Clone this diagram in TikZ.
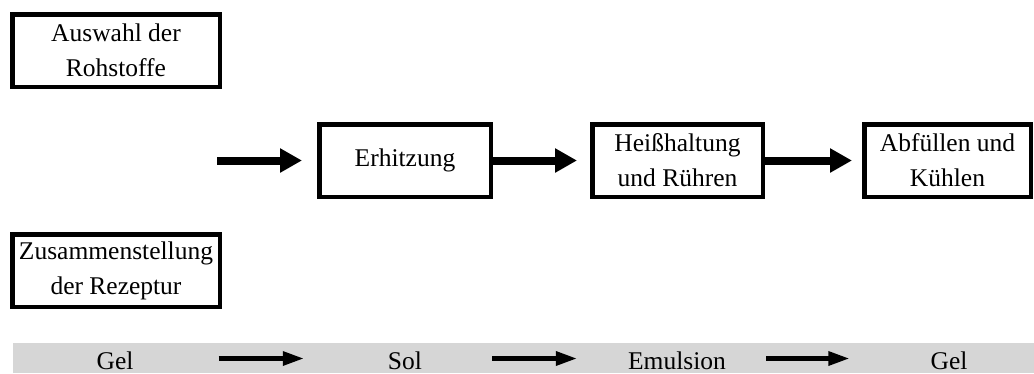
\documentclass[tikz,border=0pt]{standalone}
\usepackage{fontspec}
\setmainfont{Liberation Serif}
\usetikzlibrary{arrows.meta}
\definecolor{barfill}{RGB}{214,214,214}

\begin{document}
\begin{tikzpicture}[x=1pt, y=-1pt,
    box/.style={draw, line width=4.5pt, align=center, inner sep=0pt,
        minimum height=72.5pt, font=\fontsize{25.5}{35}\selectfont},
    bigarrow/.style={line width=8pt, -{Triangle[length=22pt, width=23pt]}},
    bararrow/.style={line width=5.5pt, -{Triangle[length=22pt, width=13pt]}},
    bartext/.style={inner sep=0pt, text height=21pt, text depth=0pt,
        font=\fontsize{25.5}{30}\selectfont}]
    \useasboundingbox (0,0) rectangle (1034,373);
    \fill[barfill] (13,343) rectangle (1034,373);

    \node[box, minimum width=207.5pt] (auswahl) at (116,50.5) {Auswahl der\\Rohstoffe};
    \node[box, minimum width=207.5pt] (rezeptur) at (116,270.5) {Zusammenstellung\\der Rezeptur};

    \node[box, minimum width=171.5pt] (erhitzung) at (405,160.5) {Erhitzung};
    \node[box, minimum width=170.5pt] (heiss) at (677.5,160.5) {Heißhaltung\\und Rühren};
    \node[box, minimum width=166.5pt] (abfuellen) at (947.5,160.5) {Abfüllen und\\Kühlen};

    \coordinate (start) at (217,160.5);
    \draw[bigarrow, shorten >=15pt] (start) -- (erhitzung.west);
    \draw[bigarrow, shorten >=13pt] (erhitzung) -- (heiss);
    \draw[bigarrow, shorten >=10pt] (heiss) -- (abfuellen);

    \node[bartext] (gelA) at (115,358.5) {Gel};
    \node[bartext] (sol) at (405,358.5) {Sol};
    \node[bartext] (emulsion) at (677,358.5) {Emulsion};
    \node[bartext] (gelB) at (949,358.5) {Gel};

    \draw[bararrow, shorten <=85pt, shorten >=83pt] (gelA) -- (sol);
    \draw[bararrow, shorten <=70pt, shorten >=50pt] (sol) -- (emulsion);
    \draw[bararrow, shorten <=40pt, shorten >=80pt] (emulsion) -- (gelB);
\end{tikzpicture}
\end{document}
